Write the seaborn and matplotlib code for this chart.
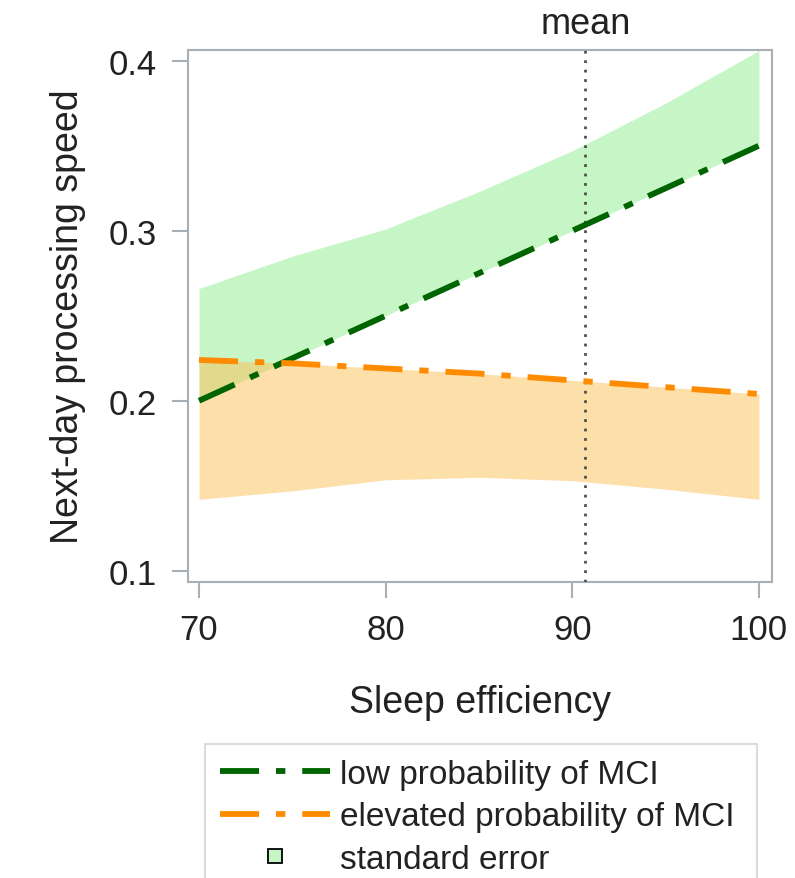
import numpy as np
import pandas as pd
import seaborn as sns
import matplotlib
matplotlib.use("Agg")
import matplotlib.pyplot as plt
from matplotlib.lines import Line2D

# Model-implied next-day processing speed across sleep efficiency
sleep_eff = [70, 75, 80, 85, 90, 95, 100]
low_mci = [0.200, 0.225, 0.250, 0.275, 0.300, 0.325, 0.350]
low_mci_upper = [0.266, 0.285, 0.301, 0.323, 0.347, 0.375, 0.406]
elev_mci = [0.224, 0.222, 0.219, 0.216, 0.212, 0.208, 0.204]
elev_mci_lower = [0.142, 0.147, 0.1535, 0.155, 0.153, 0.148, 0.142]
mean_sleep_eff = 90.7

group_names = ["low probability of MCI", "elevated probability of MCI"]
band_name = "standard error"
x_ticks = [70, 80, 90, 100]
y_ticks = [0.1, 0.2, 0.3, 0.4]

GREEN = "#006400"
ORANGE = "#FF8C00"
GREEN_BAND = "#C6F5C6"
ORANGE_BAND = "#FDC155"
FRAME = "#A9B0B5"
TEXT = "#222222"

sns.set_theme(style="white")
plt.rcParams["font.family"] = ["Liberation Sans", "DejaVu Sans"]

df = pd.DataFrame({
    "Sleep efficiency": sleep_eff * 2,
    "speed": low_mci + elev_mci,
    "group": [group_names[0]] * len(sleep_eff) + [group_names[1]] * len(sleep_eff),
})

fig = plt.figure(figsize=(7.95, 8.79), dpi=100)
ax = fig.add_axes([188 / 795, 1 - 583 / 879, (772 - 188) / 795, (583 - 51) / 879])

# one-sided standard-error bands
ax.fill_between(sleep_eff, low_mci, low_mci_upper, color=GREEN_BAND, lw=0, zorder=1)
ax.fill_between(sleep_eff, elev_mci_lower, elev_mci, color=ORANGE_BAND, alpha=0.5, lw=0, zorder=2)

dash = (6.7, 2.9, 1.6, 2.9)
sns.lineplot(data=df, x="Sleep efficiency", y="speed", hue="group", style="group",
             palette={group_names[0]: GREEN, group_names[1]: ORANGE},
             dashes={group_names[0]: dash, group_names[1]: dash},
             linewidth=4.2, legend=False, ax=ax, zorder=4)
for ln in ax.get_lines():
    ln.set_dash_capstyle("butt")

ax.axvline(mean_sleep_eff, color="#505050", lw=2.0, ls=(0, (1, 2.4)), zorder=3)
ax.text(mean_sleep_eff, 1.016, "mean", transform=ax.get_xaxis_transform(),
        ha="center", va="bottom", fontsize=26, color=TEXT)

ax.set_xlim(69.41, 100.70)
ax.set_ylim(0.0934, 0.4063)
ax.set_xticks(x_ticks)
ax.set_xticklabels([str(v) for v in x_ticks])
ax.set_yticks(y_ticks)
ax.set_yticklabels([f"{v:.1f}" for v in y_ticks])

for s in ax.spines.values():
    s.set_color(FRAME)
    s.set_linewidth(1.5)
ax.tick_params(axis="both", colors=FRAME, width=1.5, length=11.5, labelsize=25,
               labelcolor=TEXT, direction="out", bottom=True, left=True)
ax.tick_params(axis="x", pad=11)
ax.tick_params(axis="y", pad=11)

ax.set_xlabel("Sleep efficiency", fontsize=27, color=TEXT, labelpad=27)
ax.set_ylabel("Next-day processing speed", fontsize=27, color=TEXT, labelpad=16)

handles = [
    Line2D([], [], color=GREEN, lw=4.2, dashes=dash, dash_capstyle="butt"),
    Line2D([], [], color=ORANGE, lw=4.2, dashes=dash, dash_capstyle="butt"),
    Line2D([], [], ls="none", marker="s", markersize=10, markerfacecolor=GREEN_BAND,
           markeredgecolor="black", markeredgewidth=1.3),
]
leg_top = 1 - 745 / 879
leg = fig.legend(handles, group_names + [band_name], loc="upper left",
                 bbox_to_anchor=(205 / 795, leg_top - 0.2, (757 - 205) / 795, 0.2),
                 mode="expand", fontsize=24, handlelength=3.3, handletextpad=0.3,
                 labelspacing=0.34, borderpad=0.45, borderaxespad=0, frameon=True,
                 fancybox=False)
leg.get_frame().set_edgecolor("#D0D3D6")
leg.get_frame().set_linewidth(1.5)
for t in leg.get_texts():
    t.set_color(TEXT)

fig.savefig("out.png", dpi=100)
